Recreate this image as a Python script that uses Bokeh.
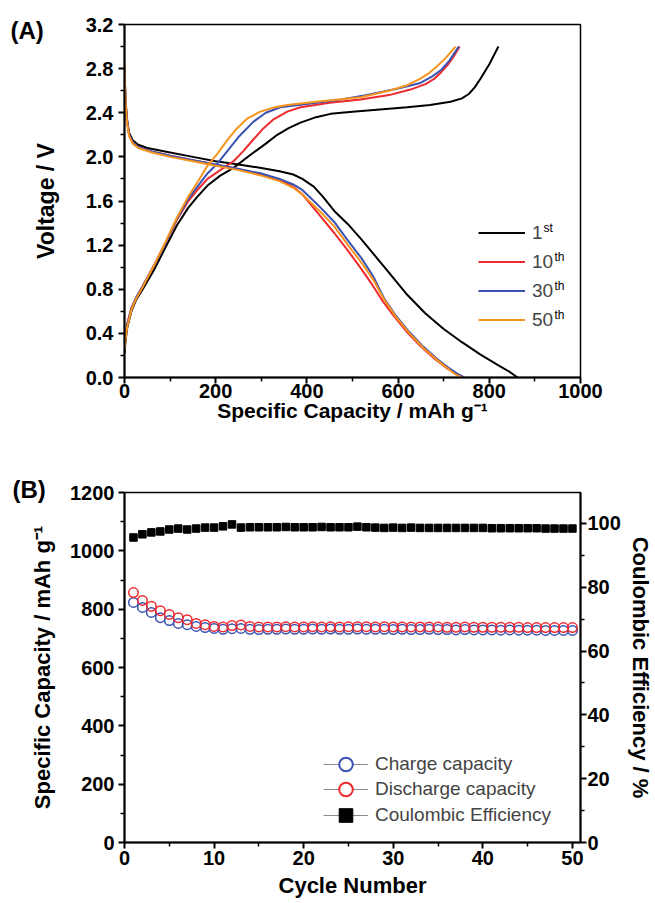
from bokeh.plotting import figure
from bokeh.models import (Range1d, LinearAxis, Legend, LegendItem, Label,
                          FixedTicker, PrintfTickFormatter)
from bokeh.layouts import column
from bokeh.embed import file_html
from bokeh.resources import INLINE

FONT = "Liberation Sans"
BLACK = "#000000"
RED = "#ee2a2e"
BLUE = "#3a53b3"
ORANGE = "#f7941e"
NAN = float("nan")

# ---------------- Panel A data: voltage profiles ----------------
d1_cap = [0, 2, 5, 10, 18, 30, 50, 100, 150, 200, 250, 300, 340, 370, 390, 415, 435, 460, 490, 520, 550, 580, 620, 660, 700, 740, 780, 820, 845, 862]
d1_v = [2.82, 2.55, 2.36, 2.22, 2.15, 2.11, 2.08, 2.04, 2.00, 1.96, 1.93, 1.90, 1.87, 1.84, 1.80, 1.73, 1.64, 1.51, 1.39, 1.25, 1.10, 0.95, 0.75, 0.58, 0.44, 0.32, 0.21, 0.11, 0.05, 0.0]
c1_cap = [0, 2, 6, 15, 25, 40, 64, 90, 115, 140, 160, 182, 210, 239, 280, 310, 335, 360, 386, 420, 452, 500, 560, 620, 670, 715, 740, 755, 768, 781, 800, 820]
c1_v = [0.22, 0.32, 0.45, 0.60, 0.70, 0.80, 0.97, 1.18, 1.38, 1.54, 1.64, 1.74, 1.83, 1.90, 2.03, 2.12, 2.20, 2.26, 2.31, 2.36, 2.39, 2.41, 2.43, 2.45, 2.47, 2.50, 2.53, 2.57, 2.63, 2.71, 2.84, 3.0]

d10_cap = [0, 2, 5, 10, 18, 30, 60, 100, 150, 200, 250, 300, 340, 370, 390, 410, 430, 460, 490, 520, 545, 565, 590, 620, 650, 680, 705, 725, 745]
d10_v = [2.80, 2.52, 2.34, 2.20, 2.13, 2.09, 2.05, 2.01, 1.97, 1.93, 1.89, 1.84, 1.79, 1.73, 1.66, 1.56, 1.46, 1.31, 1.15, 0.98, 0.83, 0.70, 0.56, 0.41, 0.28, 0.17, 0.09, 0.04, 0.0]
c10_cap = [0, 2, 6, 15, 25, 40, 64, 90, 115, 140, 160, 182, 210, 239, 260, 283, 305, 327, 357, 386, 450, 518, 580, 627, 660, 680, 695, 708, 722, 735]
c10_v = [0.30, 0.38, 0.49, 0.63, 0.72, 0.83, 1.01, 1.22, 1.43, 1.60, 1.70, 1.80, 1.88, 1.96, 2.05, 2.16, 2.26, 2.34, 2.41, 2.45, 2.49, 2.52, 2.56, 2.61, 2.66, 2.71, 2.77, 2.83, 2.91, 3.0]

d30_cap = [0, 2, 5, 10, 18, 30, 60, 100, 150, 200, 250, 300, 340, 370, 390, 410, 430, 460, 490, 520, 545, 569, 595, 625, 655, 685, 710, 728, 745]
d30_v = [2.80, 2.52, 2.34, 2.20, 2.13, 2.09, 2.05, 2.01, 1.97, 1.93, 1.89, 1.85, 1.80, 1.75, 1.70, 1.62, 1.54, 1.41, 1.24, 1.08, 0.92, 0.72, 0.56, 0.41, 0.28, 0.17, 0.09, 0.04, 0.0]
c30_cap = [0, 2, 6, 15, 25, 40, 64, 90, 115, 140, 160, 182, 204, 225, 250, 283, 310, 342, 400, 460, 532, 600, 649, 675, 695, 712, 733]
c30_v = [0.28, 0.36, 0.48, 0.62, 0.72, 0.83, 1.01, 1.22, 1.44, 1.62, 1.73, 1.85, 1.94, 2.05, 2.18, 2.32, 2.40, 2.45, 2.48, 2.51, 2.56, 2.62, 2.67, 2.73, 2.79, 2.87, 3.0]

d50_cap = [0, 2, 5, 10, 18, 30, 60, 100, 150, 200, 250, 300, 340, 370, 390, 410, 430, 460, 490, 520, 545, 569, 595, 625, 655, 685, 710, 725, 740]
d50_v = [2.82, 2.52, 2.33, 2.19, 2.12, 2.08, 2.04, 2.00, 1.96, 1.92, 1.88, 1.83, 1.78, 1.72, 1.66, 1.58, 1.50, 1.37, 1.20, 1.04, 0.89, 0.71, 0.55, 0.40, 0.27, 0.16, 0.08, 0.03, 0.0]
c50_cap = [0, 2, 6, 15, 25, 40, 64, 90, 115, 140, 160, 182, 204, 225, 247, 270, 298, 330, 357, 420, 518, 580, 620, 649, 668, 685, 705, 726]
c50_v = [0.25, 0.34, 0.46, 0.61, 0.71, 0.82, 1.01, 1.23, 1.45, 1.64, 1.77, 1.92, 2.03, 2.15, 2.26, 2.35, 2.41, 2.45, 2.47, 2.50, 2.54, 2.60, 2.65, 2.71, 2.76, 2.82, 2.90, 3.0]

a_labels = ["1", "10", "30", "50"]
a_sups = ["st", "th", "th", "th"]

a_x_ticks = [0, 200, 400, 600, 800, 1000]
a_x_minor = [100, 300, 500, 700, 900]
a_y_ticks = [0.0, 0.4, 0.8, 1.2, 1.6, 2.0, 2.4, 2.8, 3.2]
a_y_minor = [0.2, 0.6, 1.0, 1.4, 1.8, 2.2, 2.6, 3.0]

# ---------------- Panel B data: cycling ----------------
cycles = list(range(1, 51))
charge_cap = [823, 806, 789, 771, 761, 751, 747, 741, 737, 734,
              731, 733, 734, 731, 730, 731, 731, 732, 731, 731,
              732, 731, 732, 731, 731, 732, 731, 731, 731, 730,
              731, 730, 730, 731, 730, 730, 729, 730, 729, 729,
              729, 728, 729, 728, 728, 728, 727, 727, 727, 727]
discharge_cap = [857, 830, 810, 795, 782, 771, 764, 751, 747, 741,
                 739, 744, 746, 741, 739, 739, 739, 740, 739, 739,
                 740, 739, 740, 739, 740, 740, 740, 739, 740, 739,
                 739, 739, 739, 739, 739, 738, 738, 739, 738, 738,
                 738, 738, 738, 738, 737, 737, 737, 737, 737, 737]
coul_eff = [95.6, 96.6, 97.2, 97.5, 98.1, 98.4, 98.1, 98.4, 98.7, 98.7,
            99.1, 99.7, 98.7, 98.8, 98.8, 98.8, 98.8, 98.9, 98.8, 98.8,
            98.8, 98.9, 98.8, 98.8, 98.8, 99.0, 98.8, 98.7, 98.6, 98.7,
            98.6, 98.7, 98.6, 98.6, 98.6, 98.6, 98.6, 98.6, 98.6, 98.6,
            98.5, 98.5, 98.5, 98.5, 98.5, 98.5, 98.4, 98.4, 98.4, 98.4]
b_labels = ["Charge capacity", "Discharge capacity", "Coulombic Efficiency"]

b_x_ticks = [0, 10, 20, 30, 40, 50]
b_x_minor = [5, 15, 25, 35, 45]
b_y_ticks = [0, 200, 400, 600, 800, 1000, 1200]
b_y_minor = [100, 300, 500, 700, 900, 1100]
b_r_ticks = [0, 20, 40, 60, 80, 100]
b_r_minor = [10, 30, 50, 70, 90]


def style_axis(ax, label_size="22px", tick_size="20px"):
    ax.axis_line_width = 2
    ax.axis_line_color = BLACK
    ax.major_tick_line_width = 2
    ax.major_tick_line_color = BLACK
    ax.minor_tick_line_width = 1.5
    ax.minor_tick_line_color = BLACK
    ax.major_tick_in = 0
    ax.major_tick_out = 6
    ax.minor_tick_in = 0
    ax.minor_tick_out = 4
    ax.major_label_text_font = FONT
    ax.major_label_text_font_style = "bold"
    ax.major_label_text_font_size = tick_size
    ax.major_label_text_color = BLACK
    ax.axis_label_text_font = FONT
    ax.axis_label_text_font_style = "bold"
    ax.axis_label_text_font_size = label_size
    ax.axis_label_text_color = BLACK


def style_title(p, text, offset, standoff):
    p.title.text = text
    p.title.align = "left"
    p.title.offset = offset
    p.title.standoff = standoff
    p.title.vertical_align = "bottom"
    p.title.text_font = FONT
    p.title.text_font_size = "24px"
    p.title.text_font_style = "bold"
    p.title.text_color = BLACK


# ---------------- Panel A ----------------
p1 = figure(width=655, height=448, x_range=Range1d(0, 1000), y_range=Range1d(0, 3.2),
            output_backend="svg", toolbar_location=None,
            min_border_left=124, min_border_right=75, min_border_top=24, min_border_bottom=71)
p1.grid.visible = False
p1.outline_line_color = BLACK
p1.outline_line_width = 1.5
p1.background_fill_color = "white"
p1.border_fill_color = "white"
style_title(p1, "(A)", -114, -38)

p1.xaxis.ticker = FixedTicker(ticks=a_x_ticks, minor_ticks=a_x_minor)
p1.yaxis.ticker = FixedTicker(ticks=a_y_ticks, minor_ticks=a_y_minor)
p1.yaxis.formatter = PrintfTickFormatter(format="%.1f")
p1.xaxis.axis_label = "Specific Capacity / mAh g\u207b\u00b9"
p1.yaxis.axis_label = "Voltage / V"
style_axis(p1.xaxis[0], label_size="21px")
style_axis(p1.yaxis[0], label_size="23px")
p1.xaxis.major_label_standoff = 0
p1.xaxis.axis_label_standoff = -2
p1.yaxis.major_label_standoff = 5
p1.yaxis.axis_label_standoff = 24

series = [
    (d1_cap, d1_v, c1_cap, c1_v, BLACK),
    (d10_cap, d10_v, c10_cap, c10_v, RED),
    (d30_cap, d30_v, c30_cap, c30_v, BLUE),
    (d50_cap, d50_v, c50_cap, c50_v, ORANGE),
]
items = []
for (dc, dv, cc, cv, col), lab in zip(series, a_labels):
    rd = p1.line(dc, dv, line_color=col, line_width=2)
    rc = p1.line(cc, cv, line_color=col, line_width=2)
    items.append(LegendItem(label=lab, renderers=[rd]))

leg1 = Legend(items=items, location=(354, 43), orientation="vertical",
              padding=0, margin=0, spacing=0, glyph_width=47, glyph_height=29,
              label_height=29, label_standoff=7,
              label_text_font=FONT, label_text_font_size="19px",
              border_line_color=None, background_fill_alpha=0)
p1.add_layout(leg1)

sup_x = [419, 430, 430, 430]
for i, (s, sx) in enumerate(zip(a_sups, sup_x)):
    p1.add_layout(Label(x=sx, y=150 - 29 * i, x_units="screen", y_units="screen",
                        text=s, text_font=FONT, text_font_size="12px",
                        text_baseline="middle", text_color=BLACK))

# ---------------- Panel B ----------------
p2 = figure(width=655, height=454, x_range=Range1d(0, 50.9), y_range=Range1d(0, 1200),
            output_backend="svg", toolbar_location=None,
            min_border_left=124, min_border_right=75, min_border_top=44, min_border_bottom=60)
p2.grid.visible = False
p2.outline_line_color = BLACK
p2.outline_line_width = 1.5
p2.background_fill_color = "white"
p2.border_fill_color = "white"
p2.extra_y_ranges = {"ce": Range1d(0, 109.7)}
style_title(p2, "(B)", -112, -20)

p2.xaxis.ticker = FixedTicker(ticks=b_x_ticks, minor_ticks=b_x_minor)
p2.yaxis.ticker = FixedTicker(ticks=b_y_ticks, minor_ticks=b_y_minor)
p2.xaxis.axis_label = "Cycle Number"
p2.yaxis.axis_label = "Specific Capacity / mAh g\u207b\u00b9"
style_axis(p2.xaxis[0])
style_axis(p2.yaxis[0])
p2.xaxis.major_label_standoff = 2
p2.xaxis.axis_label_standoff = 5
p2.yaxis.major_label_standoff = 4
p2.yaxis.axis_label_standoff = 12

rax = LinearAxis(y_range_name="ce", ticker=FixedTicker(ticks=b_r_ticks, minor_ticks=b_r_minor),
                 axis_label="Coulombic Efficiency / %")
style_axis(rax)
rax.major_label_standoff = 1
rax.axis_label_standoff = 4
p2.add_layout(rax, "right")

p2.scatter(cycles, charge_cap, marker="circle", size=9.5, fill_color=None,
           line_color=BLUE, line_width=1.5)
p2.scatter(cycles, discharge_cap, marker="circle", size=9.5, fill_color=None,
           line_color=RED, line_width=1.5)
p2.scatter(cycles, coul_eff, marker="square", size=7.5, fill_color=BLACK,
           line_color=BLACK, y_range_name="ce")

# legend-only glyph renderers (a single NaN point: nothing is drawn in the plot)
lg_line = p2.line(x=[NAN], y=[NAN], line_color="#8c8c8c", line_width=1)
lg_c = p2.scatter(x=[NAN], y=[NAN], marker="circle", fill_color="white", line_color=BLUE, line_width=2)
lg_d = p2.scatter(x=[NAN], y=[NAN], marker="circle", fill_color="white", line_color=RED, line_width=2)
lg_e = p2.scatter(x=[NAN], y=[NAN], marker="square", fill_color=BLACK, line_color=BLACK)

leg_rows = [(b_labels[0], lg_c, 61), (b_labels[1], lg_d, 36), (b_labels[2], lg_e, 10)]
for lab, rend, vy in leg_rows:
    lg = Legend(items=[LegendItem(label=lab, renderers=[lg_line, rend])],
                location=(199, vy), padding=0, margin=0, spacing=0,
                glyph_width=45, glyph_height=34, label_height=26, label_standoff=7,
                label_text_font=FONT, label_text_font_size="19px",
                border_line_color=None, background_fill_alpha=0)
    p2.add_layout(lg)

layout = column(p1, p2, spacing=0)
open("out.html", "w").write(file_html(layout, INLINE))
